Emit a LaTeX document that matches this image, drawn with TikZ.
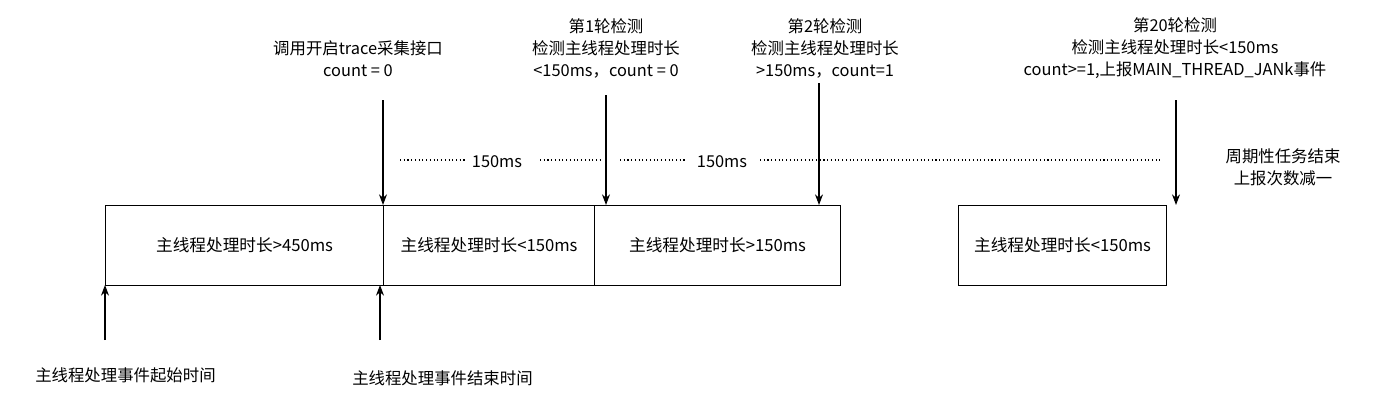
\documentclass[tikz,border=0pt]{standalone}
\usepackage{fontspec}
\setmainfont{Noto Sans CJK SC}
\usetikzlibrary{arrows.meta}
\begin{document}
\begin{tikzpicture}[x=0.75pt,y=-0.75pt,
  box/.style={draw,thick,minimum height=60pt,anchor=north west,inner sep=0pt,font=\fontsize{12.5}{14}\selectfont},
  lbl/.style={align=center,font=\fontsize{12.3}{16.5}\selectfont,inner sep=0pt},
  arr/.style={-{Stealth[length=8pt,width=6pt]},thick},
  dot/.style={thick,dotted}]
\useasboundingbox (0,0) rectangle (1383,403);
\node[box,minimum width=208.5pt] (b1) at (105,205) {主线程处理时长>450ms};
\node[box,minimum width=158.25pt] (b2) at (383,205) {主线程处理时长<150ms};
\node[box,minimum width=184.5pt] (b3) at (594,205) {主线程处理时长>150ms};
\node[box,minimum width=156pt] (b4) at (958,205) {主线程处理时长<150ms};
\node[lbl] (t0) at (358,59) {调用开启trace采集接口\\count = 0};
\node[lbl] (t1) at (606,48) {第1轮检测\\检测主线程处理时长\\<150ms，count = 0};
\node[lbl] (t2) at (825,48) {第2轮检测\\检测主线程处理时长\\>150ms，count=1};
\node[lbl] (t3) at (1175,48) {第20轮检测\\检测主线程处理时长<150ms\\count>=1,上报MAIN\_THREAD\_JANk事件};
\node[lbl] (t4) at (1283,167) {周期性任务结束\\上报次数减一};
\node[lbl,anchor=west] (s0) at (35,375) {主线程处理事件起始时间};
\node[lbl,anchor=west] (s1) at (352,378) {主线程处理事件结束时间};
\coordinate (a0) at (383,100); \coordinate (a0e) at (383,205);
\coordinate (a1) at (606,95); \coordinate (a1e) at (606,205);
\coordinate (a2) at (819,83); \coordinate (a2e) at (819,205);
\coordinate (a3) at (1176,100); \coordinate (a3e) at (1176,205);
\draw[arr] (a0) -- (a0e);
\draw[arr] (a1) -- (a1e);
\draw[arr] (a2) -- (a2e);
\draw[arr] (a3) -- (a3e);
\coordinate (u0) at (105,340); \coordinate (u1) at (380,340);
\draw[arr] (u0) -- (105,285);
\draw[arr] (u1) -- (380,285);
\node[lbl] (m1) at (497,162) {150ms};
\node[lbl] (m2) at (722,162) {150ms};
\coordinate (d1) at (400,160); \coordinate (d2) at (465,160);
\coordinate (d3) at (540,160); \coordinate (d4) at (600,160);
\coordinate (d5) at (620,160); \coordinate (d6) at (685,160);
\coordinate (d7) at (760,160); \coordinate (d8) at (1160,160);
\draw[dot] (d1) -- (d2); \draw[dot] (d3) -- (d4);
\draw[dot] (d5) -- (d6); \draw[dot] (d7) -- (d8);
\end{tikzpicture}
\end{document}
